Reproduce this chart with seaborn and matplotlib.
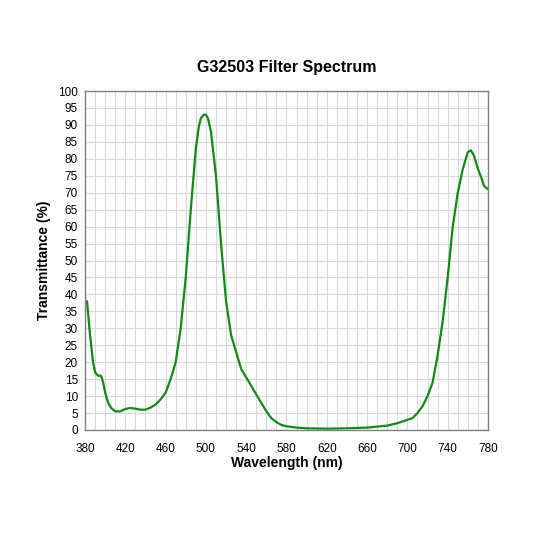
import matplotlib
matplotlib.use("Agg")
import matplotlib.pyplot as plt
import seaborn as sns
import numpy as np

wavelength = [380,382,385,388,390,393,396,398,400,403,406,410,415,420,425,430,435,440,445,450,455,460,465,470,475,480,485,490,493,495,498,500,502,505,510,515,520,525,530,535,540,545,550,555,560,565,570,575,580,590,600,620,640,660,670,680,690,700,705,710,715,720,725,730,735,740,745,750,755,758,760,763,766,770,774,776,780]
transmittance = [38,38,28,20,17,16,16,14,11,8,6.5,5.5,5.5,6.2,6.5,6.3,6,6,6.6,7.5,9,11,15,20,30,45,65,83,89.5,92,93,93,92,88,75,55,38,28,23,18,15.5,13,10.5,8,5.5,3.5,2.3,1.5,1.1,0.7,0.5,0.4,0.5,0.7,1,1.3,2,3,3.5,5,7,10,14,22,32,45,60,70,77,80,82,82.5,81,77,74,72,71]

sns.set_style("white")
plt.rcParams['font.family'] = ['Liberation Sans', 'DejaVu Sans']
fig = plt.figure(figsize=(5.33,5.33), dpi=100)
ax = fig.add_axes([85/533, 1-430/533, 403/533, 339/533])
sns.lineplot(x=wavelength, y=transmittance, ax=ax, color="#138a13", linewidth=1.6)
ax.set_xlim(380,780); ax.set_ylim(0,100)
ax.set_xticks(np.arange(380,781,40)); ax.set_xticks(np.arange(380,781,10), minor=True)
ax.set_yticks(np.arange(0,101,5))
ax.grid(True, which="both", color="#d9d9d9", linewidth=0.8)
ax.tick_params(labelsize=8.5, length=0, colors="black")
ax.tick_params(axis="x", pad=9)
ax.tick_params(axis="y", pad=5)
for s in ax.spines.values():
    s.set_color("#808080"); s.set_linewidth(1)
ax.set_xlabel("Wavelength (nm)", fontsize=10, fontweight="bold", labelpad=1, color="black")
ax.set_ylabel("Transmittance (%)", fontsize=10, fontweight="bold", labelpad=5, color="black")
ax.set_title("G32503 Filter Spectrum", fontsize=11.5, fontweight="bold", pad=14, color="black")
fig.savefig("out.png", dpi=100)
